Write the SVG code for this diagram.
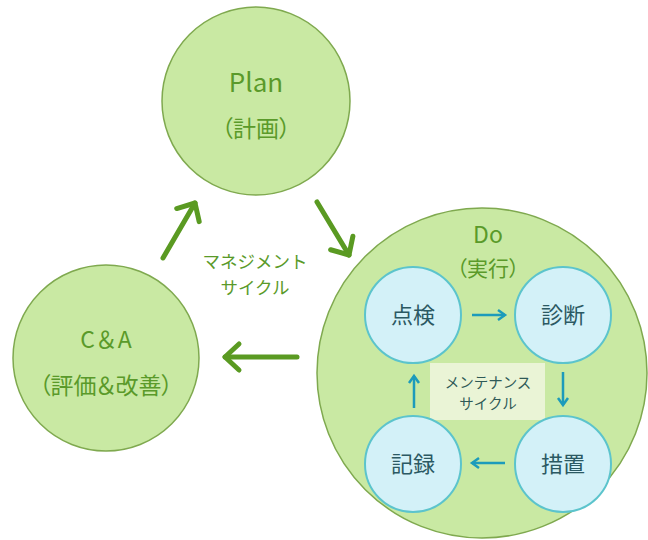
<svg xmlns="http://www.w3.org/2000/svg" width="648" height="540" viewBox="0 0 648 540">
<style>
.gc{fill:#c9e9a3;stroke:#7fa94f;stroke-width:1.5}
.bc{fill:#d3f1f8;stroke:#5cc4cc;stroke-width:2}
.gt{font-family:"Noto Sans CJK JP","Noto Sans",sans-serif;fill:#5a9a2a;text-anchor:middle}
.bt{font-family:"Noto Sans CJK JP",sans-serif;fill:#2b5963;text-anchor:middle;font-size:22px}
.mt{font-family:"Noto Sans CJK JP",sans-serif;fill:#2f5a57;text-anchor:middle;font-size:14.5px}
.p{font-feature-settings:"palt"}
.ga{stroke:#5a9a22;stroke-width:5;stroke-linecap:round;fill:none}
.ba{stroke:#1c9bbb;stroke-width:2.5;fill:none}
</style>
<defs>
<marker id="gh" viewBox="-20 -16 26 32" markerWidth="26" markerHeight="32" refX="0" refY="0" orient="auto" markerUnits="userSpaceOnUse" overflow="visible">
<path d="M-14,-13 L0,0 L-14,13" fill="none" stroke="#5a9a22" stroke-width="5" stroke-linecap="round" stroke-linejoin="round"/>
</marker>
<marker id="bh" viewBox="-10 -8 12 16" markerWidth="12" markerHeight="16" refX="0" refY="0" orient="auto" markerUnits="userSpaceOnUse" overflow="visible">
<path d="M-7,-5 L0,0 L-7,5" fill="none" stroke="#1c9bbb" stroke-width="2.5"/>
</marker>
</defs>

<g id="plan">
<circle class="gc" cx="256" cy="101" r="94"/>
<text class="gt" x="256" y="92" font-size="26">Plan</text>
<text class="gt p" x="256" y="137" font-size="23">（計画）</text>
</g>

<g id="ca">
<circle class="gc" cx="106" cy="358" r="93"/>
<text class="gt" x="106" y="348" font-size="23">C＆A</text>
<text class="gt p" x="106" y="394" font-size="23">（評価＆改善）</text>
</g>

<g id="do">
<circle class="gc" cx="482" cy="373" r="165"/>
<text class="gt" x="488" y="243" font-size="23">Do</text>
<text class="gt p" x="488" y="276" font-size="21">（実行）</text>
</g>

<g id="management-label">
<text class="gt" x="255" y="268" font-size="17.5">マネジメント</text>
<text class="gt" x="255" y="294" font-size="17.5">サイクル</text>
</g>

<g id="maintenance-label">
<rect x="430" y="363" width="115" height="57" fill="#eaf4d6"/>
<text class="mt" x="488" y="388">メンテナンス</text>
<text class="mt" x="488" y="409">サイクル</text>
</g>

<g id="tenken">
<circle class="bc" cx="413" cy="315" r="48"/>
<text class="bt" x="413" y="323">点検</text>
</g>
<g id="shindan">
<circle class="bc" cx="563" cy="315" r="48"/>
<text class="bt" x="563" y="323">診断</text>
</g>
<g id="sochi">
<circle class="bc" cx="563" cy="464" r="48"/>
<text class="bt" x="563" y="472">措置</text>
</g>
<g id="kiroku">
<circle class="bc" cx="413" cy="464" r="48"/>
<text class="bt" x="413" y="472">記録</text>
</g>

<g id="connectors">
<line class="ga" x1="163" y1="258" x2="195" y2="203" marker-end="url(#gh)"/>
<line class="ga" x1="317" y1="202" x2="349" y2="255" marker-end="url(#gh)"/>
<line class="ga" x1="297" y1="357" x2="225" y2="357" marker-end="url(#gh)"/>
<line class="ba" x1="472" y1="315" x2="505" y2="315" marker-end="url(#bh)"/>
<line class="ba" x1="563" y1="372" x2="563" y2="405" marker-end="url(#bh)"/>
<line class="ba" x1="505" y1="463" x2="472" y2="463" marker-end="url(#bh)"/>
<line class="ba" x1="414" y1="408" x2="414" y2="376" marker-end="url(#bh)"/>
</g>
</svg>
